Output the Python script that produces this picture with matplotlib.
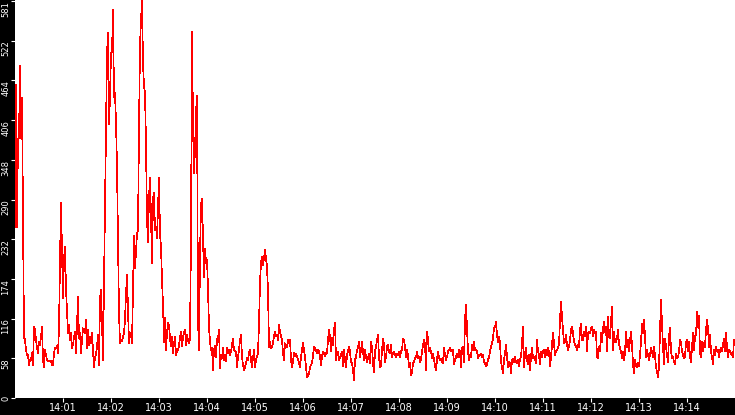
import numpy as np
import matplotlib
matplotlib.use("Agg")
import matplotlib.pyplot as plt

# Samples every 1.25 s, starting 14:00:00
rate_1400_1403 = [
    250, 458, 250, 380, 380, 486, 380, 440, 263, 89,
    85, 70, 63, 63, 48, 56, 56, 66, 48, 104,
    100, 85, 73, 66, 82, 78, 89, 104, 56, 45,
    70, 63, 56, 54, 54, 54, 54, 48, 48, 66,
    73, 73, 76, 66, 102, 202, 285, 215, 146, 205,
    221, 160, 126, 95, 107, 85, 95, 73, 78, 89,
    97, 66, 107, 148, 87, 95, 66, 85, 102, 100,
    95, 114, 73, 100, 78, 89, 80, 95, 70, 45,
    60, 63, 76, 92, 48, 146, 158, 110, 56, 168,
    287, 382, 505, 534, 400, 440, 505, 506, 568, 440,
    446, 404, 338, 234, 124, 80, 85, 83, 89, 95,
    114, 153, 180, 129, 80, 92, 95, 80, 158, 238,
    190, 214, 241, 246, 395, 516, 553, 581, 490, 455,
    448, 370, 260, 228, 294, 323, 265, 198, 292, 300,
]
rate_1403_1406 = [
    246, 250, 234, 280, 323, 241, 221, 173, 136, 82,
    117, 70, 95, 110, 107, 87, 76, 89, 66, 80,
    89, 63, 68, 70, 76, 89, 97, 76, 89, 95,
    100, 78, 92, 85, 80, 87, 238, 536, 400, 329,
    363, 417, 443, 114, 70, 209, 282, 292, 234, 177,
    219, 198, 202, 161, 102, 83, 70, 73, 41, 70,
    76, 59, 87, 87, 100, 44, 62, 59, 73, 56,
    63, 54, 73, 66, 70, 63, 68, 78, 87, 70,
    68, 68, 45, 61, 70, 85, 92, 61, 48, 41,
    45, 51, 59, 56, 66, 70, 56, 45, 59, 70,
    45, 56, 61, 66, 109, 170, 197, 207, 195, 205,
    217, 205, 192, 156, 75, 82, 73, 75, 80, 90,
    97, 90, 92, 85, 107, 97, 90, 85, 66, 56,
    80, 75, 75, 85, 80, 85, 56, 45, 53, 66,
    61, 65, 61, 56,
]
rate_1406_1409 = [
    51, 45, 61, 70, 80, 70,
    61, 45, 30, 33, 36, 45, 48, 51, 61, 75,
    73, 70, 66, 70, 68, 61, 48, 61, 68, 66,
    61, 66, 66, 85, 100, 90, 68, 88, 78, 100,
    110, 56, 65, 68, 56, 60, 63, 68, 47, 70,
    56, 45, 63, 68, 75, 68, 53, 51, 41, 26,
    56, 60, 70, 73, 82, 60, 70, 82, 68, 56,
    70, 60, 53, 58, 65, 51, 82, 75, 51, 38,
    68, 75, 85, 92, 60, 45, 47, 70, 87, 78,
    53, 60, 75, 78, 68, 65, 78, 60, 65, 68,
    63, 60, 65, 63, 68, 60, 68, 70, 87, 85,
    75, 60, 70, 63, 45, 51, 34, 36, 51, 53,
    58, 60, 68, 58, 60, 53, 56, 68, 78, 85,
    80, 41, 97, 87, 68, 73, 68, 58, 65, 56,
    47, 41, 56, 68, 60, 56, 58, 53,
]
rate_1409_1412 = [
    51, 73,
    63, 56, 60, 68, 70, 73, 68, 70, 70, 49,
    56, 60, 65, 60, 70, 68, 45, 73, 75, 53,
    114, 136, 102, 68, 56, 63, 60, 78, 70, 82,
    70, 70, 68, 58, 63, 63, 65, 60, 63, 53,
    51, 47, 49, 56, 60, 68, 75, 80, 87, 102,
    104, 112, 92, 82, 90, 80, 53, 45, 36, 56,
    65, 78, 60, 45, 53, 51, 36, 56, 58, 53,
    60, 53, 51, 56, 47, 56, 60, 80, 104, 45,
    65, 73, 56, 49, 63, 41, 60, 73, 58, 60,
    58, 51, 85, 68, 63, 49, 68, 60, 68, 70,
    60, 70, 63, 73, 68, 47, 60, 78, 95, 80,
    63, 68, 70, 73, 78, 114, 141, 119, 100, 80,
    82, 92, 78, 70, 75, 85, 100, 104, 95, 82,
    78, 75, 70, 78, 75, 100, 109, 85, 85, 97,
    90, 104,
]
rate_1412_1415 = [
    68, 95, 97, 95, 102, 104, 90, 100,
    95, 97, 60, 58, 75, 68, 95, 82, 100, 112,
    97, 104, 68, 119, 90, 87, 112, 133, 70, 97,
    82, 82, 87, 100, 78, 73, 68, 58, 68, 56,
    65, 97, 75, 85, 68, 85, 97, 78, 49, 36,
    56, 47, 45, 51, 47, 63, 82, 109, 95, 114,
    90, 60, 70, 63, 56, 63, 73, 68, 60, 75,
    63, 45, 38, 31, 45, 97, 143, 109, 75, 49,
    87, 75, 63, 53, 90, 102, 70, 58, 60, 53,
    49, 65, 58, 60, 68, 85, 82, 68, 63, 58,
    60, 82, 85, 68, 82, 60, 53, 75, 95, 70,
    90, 92, 126, 104, 121, 65, 60, 82, 68, 80,
    75, 100, 114, 102, 75, 92, 68, 60, 49, 70,
    63, 75, 68, 70, 60, 70, 73, 68, 78, 87,
    68, 95, 73, 60, 70, 68, 65, 63, 60, 85,
]

sample_seconds = 1.25
x_tick_minutes = [1, 2, 3, 4, 5, 6, 7, 8, 9, 10, 11, 12, 13, 14]
x_tick_labels = ["14:01", "14:02", "14:03", "14:04", "14:05", "14:06", "14:07",
                 "14:08", "14:09", "14:10", "14:11", "14:12", "14:13", "14:14"]
y_max = 581
y_tick_labels = ["0", "58", "116", "174", "232", "290", "348", "406", "464", "522", "581"]

values = np.array(rate_1400_1403 + rate_1403_1406 + rate_1406_1409
                  + rate_1409_1412 + rate_1412_1415, dtype=float)
t_min = np.arange(len(values)) * sample_seconds / 60.0
y_ticks = [y_max * k / 10 for k in range(11)]

plt.rcParams['font.family'] = ['DejaVu Sans']

W, H = 735, 415
fig = plt.figure(figsize=(W / 100, H / 100), dpi=100, facecolor='black')
ax = fig.add_axes([15 / W, 17 / H, 720 / W, 398 / H])
ax.set_facecolor('white')
ax.plot(t_min, values, color='#ff0000', lw=0.5, antialiased=False)
ax.set_xlim(0, 15)
ax.set_ylim(0, 582.5)
for s in ax.spines.values():
    s.set_visible(False)

ax.set_xticks(x_tick_minutes, x_tick_labels)
ax.set_yticks(y_ticks, y_tick_labels)
ax.tick_params(colors='white', length=3.0, width=0.8, pad=0.5)
ax.tick_params(axis='x', labelsize=7)
ax.tick_params(axis='y', labelsize=6)
for i, lbl in enumerate(ax.get_yticklabels()):
    lbl.set_rotation(90)
    lbl.set_verticalalignment('center' if i == 0 else 'top')

fig.savefig('out.png', dpi=100, facecolor='black')
